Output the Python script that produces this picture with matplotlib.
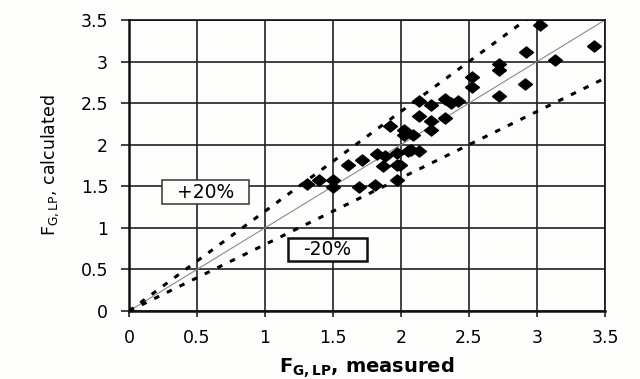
import matplotlib
matplotlib.use("Agg")
import matplotlib.pyplot as plt
from matplotlib.path import Path
import numpy as np

plt.rcParams['font.family'] = ['DejaVu Sans']
plt.rcParams['mathtext.fontset'] = 'dejavusans'

# measured vs calculated
measured = [1.31, 1.40, 1.50, 1.50, 1.61, 1.71, 1.82, 1.69, 1.81, 1.87,
            1.88, 1.92, 1.97, 1.97, 1.97, 1.99, 2.02, 2.02, 2.05, 2.07,
            2.09, 2.13, 2.13, 2.13, 2.22, 2.22, 2.22, 2.32, 2.32, 2.37,
            2.42, 2.52, 2.52, 2.72, 2.72, 2.72, 2.91, 2.92, 3.02, 3.13,
            3.42]
calculated = [1.53, 1.58, 1.58, 1.49, 1.76, 1.82, 1.89, 1.49, 1.52, 1.74,
              1.86, 2.22, 1.90, 1.76, 1.57, 1.76, 2.18, 2.12, 1.92, 1.94,
              2.12, 2.52, 2.34, 1.92, 2.48, 2.29, 2.18, 2.55, 2.32, 2.50,
              2.52, 2.82, 2.70, 2.97, 2.90, 2.59, 2.73, 3.12, 3.44, 3.02,
              3.19]

ticks = [0, 0.5, 1, 1.5, 2, 2.5, 3, 3.5]
tick_labels = ['0', '0.5', '1', '1.5', '2', '2.5', '3', '3.5']
band_upper = 1.2
band_lower = 0.8
label_upper = '+20%'
label_lower = '-20%'

BG = '#fdfdfb'


def wide_box(x0, y0, width, height, mutation_size):
    hp = 0.8 * mutation_size
    vp = 0.12 * mutation_size
    x0, x1 = x0 - hp, x0 + width + hp
    y0, y1 = y0 - vp, y0 + height + vp
    return Path([(x0, y0), (x1, y0), (x1, y1), (x0, y1), (x0, y0)], closed=True)


fig = plt.figure(figsize=(6.4, 3.79), dpi=100)
fig.patch.set_facecolor(BG)
ax = fig.add_axes([129/640, 1-311/379, (605-129)/640, (311-20)/379])
ax.set_facecolor(BG)

xx = np.array([0, 3.5])
ax.plot(xx, xx, color='#8a8a8a', lw=0.8, zorder=2)
ax.plot(xx, band_upper*xx, color='black', lw=2.2, linestyle=(0, (1.8, 2.8)), zorder=3)
ax.plot(xx, band_lower*xx, color='black', lw=2.2, linestyle=(0, (1.8, 2.8)), zorder=3)

diamond = [(-1, 0), (0, 0.8), (1, 0), (0, -0.8), (-1, 0)]
ax.plot(measured, calculated, linestyle='none', marker=diamond, markersize=10,
        color='black', zorder=4)

ax.set_xlim(0, 3.5)
ax.set_ylim(0, 3.5)
ax.set_xticks(ticks)
ax.set_yticks(ticks)
ax.set_xticklabels(tick_labels, fontsize=12.5)
ax.set_yticklabels(tick_labels, fontsize=12.5)
ax.grid(True, color='#222222', lw=1.2)
ax.set_axisbelow(True)
ax.tick_params(axis='y', direction='out', length=6, width=1.2, color='#222222', pad=9)
ax.tick_params(axis='x', direction='out', length=4, width=1.2, color='#222222', pad=9)
for name, s in ax.spines.items():
    s.set_color('#111111')
    s.set_linewidth(1.8 if name in ('left', 'bottom') else 1.2)

ax.text(0.56, 1.43, label_upper, fontsize=13.5, ha='center', va='center', zorder=5,
        bbox=dict(boxstyle=wide_box, facecolor=BG, edgecolor='#333333', lw=1.1))
ax.text(1.46, 0.74, label_lower, fontsize=13.5, ha='center', va='center', zorder=5,
        bbox=dict(boxstyle=wide_box, facecolor=BG, edgecolor='#111111', lw=1.8))

ax.set_xlabel(r'$\mathbf{F}_{\mathbf{G,LP}}$, measured', fontsize=14, fontweight='bold', labelpad=6)
ax.set_ylabel(r'$\mathrm{F}_{\mathrm{G,LP}}$, calculated', fontsize=12.5, labelpad=14)

fig.savefig('out.png', dpi=100, facecolor=fig.get_facecolor())
